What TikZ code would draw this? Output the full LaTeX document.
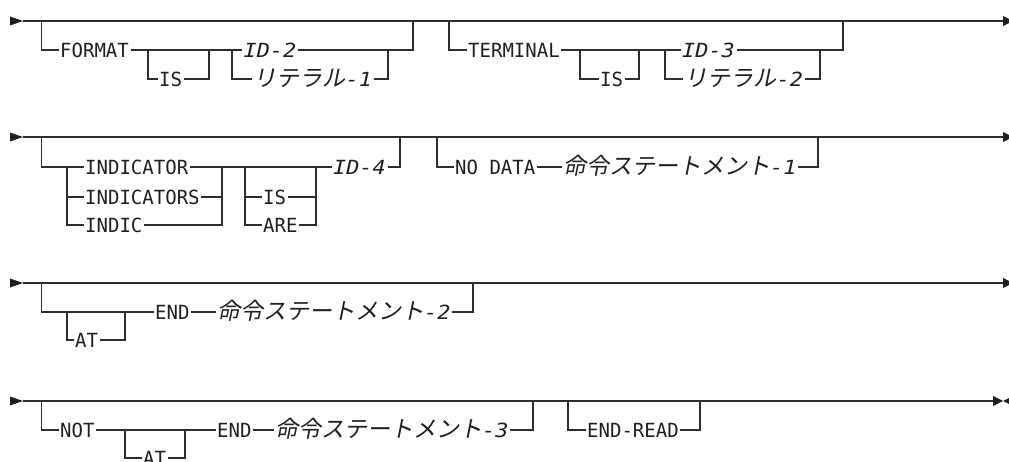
\documentclass[tikz,border=0pt]{standalone}
\usepackage{fontspec}
\newfontfamily\kwf{DejaVu Sans Mono}[FakeStretch=0.975]
\newfontfamily\varf{DejaVu Sans Mono}[FakeStretch=1.12]
\newfontfamily\jpf{Noto Sans CJK JP}[FakeSlant=0.2]
\newcommand{\vrt}{\varf\itshape}
\newcommand{\jptext}[2]{{\jpf\fontsize{23}{23}\selectfont #1}{\vrt #2}}
\tikzset{
  rr/.style={line width=1.3pt, draw=black!82},
  kwd/.style={anchor=west, inner xsep=1.5pt, inner ysep=0pt, text height=14.2pt, text depth=0pt,
     font={\kwf\fontsize{19.5}{19.5}\selectfont}, text=black!88},
  var/.style={kwd, font={\vrt\fontsize{19.5}{19.5}\selectfont}},
  tip/.style={fill=black!88},
}
\begin{document}
\begin{tikzpicture}[x=1pt,y=-1pt]
\useasboundingbox (0,0) rectangle (1009,462);
% ================= Row 1 =================
\coordinate (s1) at (23,21);
\coordinate (e1) at (1003,21);
\fill[tip] (10,16.5) -- (s1) -- (10,25.5) -- cycle;
\draw[rr] (s1) -- (e1);
\fill[tip] (e1) ++(0,-5) -- ++(10,5) -- ++(-10,5) -- cycle;
% branch FORMAT
\coordinate (r1a) at (41.5,21); \coordinate (r1b) at (41.5,50);
\node[kwd] (format) at (58.5,50) {FORMAT};
\draw[rr] (r1a) -- (r1b) -- (format.west);
\coordinate (is1a) at (148,50); \coordinate (is1b) at (148,79);
\coordinate (is1c) at (209,79); \coordinate (is1d) at (209,50);
\node[kwd] (is1) at (157.5,79) {IS};
\draw[rr] (is1a) -- (is1b) -- (is1.west);
\draw[rr] (is1.east) -- (is1c) -- (is1d);
\coordinate (c1a) at (232,50); \coordinate (c1b) at (232,79);
\coordinate (c1c) at (388,50); \coordinate (c1d) at (388,79);
\draw[rr] (format.east) -- (c1a);
\node[var] (id2) at (242,50) {ID-2};
\node[var] (lit1) at (252,79) {\jptext{リテラル}{-1}};
\draw[rr] (c1a) -- (id2.west);
\draw[rr] (c1a) -- (c1b) -- (lit1.west);
\draw[rr] (id2.east) -- (c1c);
\draw[rr] (lit1.east) -- (c1d) -- (c1c);
\coordinate (r1c) at (413,50); \coordinate (r1d) at (413,21);
\draw[rr] (c1c) -- (r1c) -- (r1d);
% branch TERMINAL
\coordinate (r1e) at (449,21); \coordinate (r1f) at (449,50);
\node[kwd] (term) at (466.5,50) {TERMINAL};
\draw[rr] (r1e) -- (r1f) -- (term.west);
\coordinate (is2a) at (580,50); \coordinate (is2b) at (580,79);
\coordinate (is2c) at (639,79); \coordinate (is2d) at (639,50);
\node[kwd] (is2) at (598.5,79) {IS};
\draw[rr] (is2a) -- (is2b) -- (is2.west);
\draw[rr] (is2.east) -- (is2c) -- (is2d);
\coordinate (c2a) at (665,50); \coordinate (c2b) at (665,79);
\coordinate (c2c) at (820,50); \coordinate (c2d) at (820,79);
\draw[rr] (term.east) -- (c2a);
\node[var] (id3) at (680.5,50) {ID-3};
\node[var] (lit2) at (683,79) {\jptext{リテラル}{-2}};
\draw[rr] (c2a) -- (id3.west);
\draw[rr] (c2a) -- (c2b) -- (lit2.west);
\draw[rr] (id3.east) -- (c2c);
\draw[rr] (lit2.east) -- (c2d) -- (c2c);
\coordinate (r1g) at (843,50); \coordinate (r1h) at (843,21);
\draw[rr] (c2c) -- (r1g) -- (r1h);
% ================= Row 2 =================
\coordinate (s2) at (23,137);
\coordinate (e2) at (1003,137);
\fill[tip] (10,132.5) -- (s2) -- (10,141.5) -- cycle;
\draw[rr] (s2) -- (e2);
\fill[tip] (e2) ++(0,-5) -- ++(10,5) -- ++(-10,5) -- cycle;
\coordinate (r2a) at (41.5,137); \coordinate (r2b) at (41.5,167);
\coordinate (ch1) at (67,167); \coordinate (ch2) at (67,197); \coordinate (ch3) at (67,225);
\node[kwd] (indicator) at (83.5,167) {INDICATOR};
\node[kwd] (indicators) at (83.5,197) {INDICATORS};
\node[kwd] (indic) at (83.5,225) {INDIC};
\draw[rr] (r2a) -- (r2b) -- (ch1) -- (indicator.west);
\draw[rr] (ch1) -- (ch3) -- (indic.west);
\draw[rr] (ch2) -- (indicators.west);
\coordinate (j1) at (222,167); \coordinate (j2) at (222,197); \coordinate (j3) at (222,225);
\draw[rr] (indicator.east) -- (j1);
\draw[rr] (indicators.east) -- (j2);
\draw[rr] (indic.east) -- (j3) -- (j1);
\coordinate (k1) at (245,167); \coordinate (k2) at (245,197); \coordinate (k3) at (245,225);
\coordinate (m1) at (316,167); \coordinate (m2) at (316,197); \coordinate (m3) at (316,225);
\node[kwd] (is3) at (261.5,197) {IS};
\node[kwd] (are) at (261.5,225) {ARE};
\node[var] (id4) at (331.5,167) {ID-4};
\draw[rr] (j1) -- (k1) -- (m1) -- (id4.west);
\draw[rr] (k1) -- (k3) -- (are.west);
\draw[rr] (k2) -- (is3.west);
\draw[rr] (is3.east) -- (m2);
\draw[rr] (are.east) -- (m3) -- (m1);
\coordinate (r2c) at (400,167); \coordinate (r2d) at (400,137);
\draw[rr] (id4.east) -- (r2c) -- (r2d);
\coordinate (r2e) at (437,137); \coordinate (r2f) at (437,167);
\node[kwd] (nodata) at (453.5,167) {NO DATA};
\node[var] (stmt1) at (561.5,167) {\jptext{命令ステートメント}{-1}};
\draw[rr] (r2e) -- (r2f) -- (nodata.west);
\draw[rr] (nodata.east) -- (stmt1.west);
\coordinate (r2g) at (818,167); \coordinate (r2h) at (818,137);
\draw[rr] (stmt1.east) -- (r2g) -- (r2h);
% ================= Row 3 =================
\coordinate (s3) at (23,283);
\coordinate (e3) at (1003,283);
\fill[tip] (10,278.5) -- (s3) -- (10,287.5) -- cycle;
\draw[rr] (s3) -- (e3);
\fill[tip] (e3) ++(0,-5) -- ++(10,5) -- ++(-10,5) -- cycle;
\coordinate (r3a) at (41.5,283); \coordinate (r3b) at (41.5,312);
\node[kwd] (end1) at (153.5,312) {END};
\draw[rr] (r3a) -- (r3b) -- (end1.west);
\coordinate (at1a) at (67,312); \coordinate (at1b) at (67,340);
\coordinate (at1c) at (125,340); \coordinate (at1d) at (125,312);
\node[kwd] (at1) at (73.5,340) {AT};
\draw[rr] (at1a) -- (at1b) -- (at1.west);
\draw[rr] (at1.east) -- (at1c) -- (at1d);
\node[var] (stmt2) at (215.5,312) {\jptext{命令ステートメント}{-2}};
\draw[rr] (end1.east) -- (stmt2.west);
\coordinate (r3c) at (473,312); \coordinate (r3d) at (473,283);
\draw[rr] (stmt2.east) -- (r3c) -- (r3d);
% ================= Row 4 =================
\coordinate (s4) at (23,401);
\coordinate (e4) at (993,401);
\fill[tip] (10,396.5) -- (s4) -- (10,405.5) -- cycle;
\draw[rr] (s4) -- (e4);
\fill[tip] (e4) ++(0,-5) -- ++(10,5) -- ++(-10,5) -- cycle;
\fill[tip] (1003,401) -- (1013,396) -- (1013,406) -- cycle;
\coordinate (r4a) at (41.5,401); \coordinate (r4b) at (41.5,430);
\node[kwd] (not) at (58.5,430) {NOT};
\node[kwd] (end2) at (215.5,430) {END};
\draw[rr] (r4a) -- (r4b) -- (not.west);
\draw[rr] (not.east) -- (end2.west);
\coordinate (at2a) at (125,430); \coordinate (at2b) at (125,458);
\coordinate (at2c) at (185,458); \coordinate (at2d) at (185,430);
\node[kwd] (at2) at (141.5,458) {AT};
\draw[rr] (at2a) -- (at2b) -- (at2.west);
\draw[rr] (at2.east) -- (at2c) -- (at2d);
\node[var] (stmt3) at (273.5,430) {\jptext{命令ステートメント}{-3}};
\draw[rr] (end2.east) -- (stmt3.west);
\coordinate (r4c) at (533,430); \coordinate (r4d) at (533,401);
\draw[rr] (stmt3.east) -- (r4c) -- (r4d);
\coordinate (r4e) at (568,401); \coordinate (r4f) at (568,430);
\node[kwd] (endread) at (585.5,430) {END-READ};
\coordinate (r4g) at (700,430); \coordinate (r4h) at (700,401);
\draw[rr] (r4e) -- (r4f) -- (endread.west);
\draw[rr] (endread.east) -- (r4g) -- (r4h);
\end{tikzpicture}
\end{document}
